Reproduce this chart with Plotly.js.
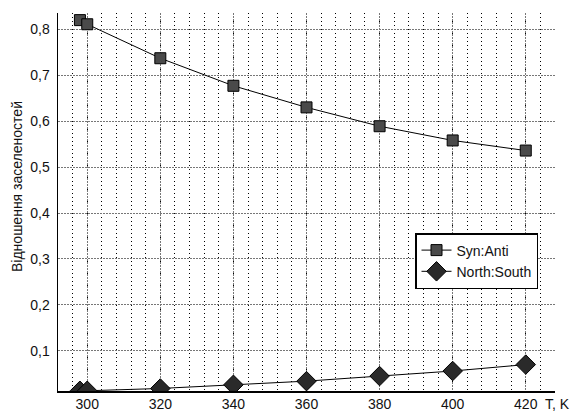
<!DOCTYPE html>
<html>
<head>
<meta charset="utf-8">
<script src="https://cdn.plot.ly/plotly-3.0.1.min.js"></script>
<style>html,body{margin:0;padding:0;background:#fff}#chart{width:573px;height:414px}</style>
</head>
<body>
<div id="chart"></div>
<script>
const temps = [298, 300, 320, 340, 360, 380, 400, 420];
const synAnti = [0.820, 0.811, 0.737, 0.677, 0.630, 0.589, 0.558, 0.536];
const northSouth = [0.013, 0.013, 0.018, 0.026, 0.034, 0.045, 0.056, 0.070];
const xTicks = [300, 320, 340, 360, 380, 400, 420];
const yTicks = [0.1, 0.2, 0.3, 0.4, 0.5, 0.6, 0.7, 0.8];
const seriesNames = ['Syn:Anti', 'North:South'];
const yTitle = 'Відношення заселеностей';
const xTitle = 'T, K';

const font = {family: "'Liberation Sans', Arial, sans-serif", color: '#111'};

const traces = [
  {x: temps, y: synAnti, name: seriesNames[0], type: 'scatter', mode: 'lines+markers',
   line: {color: '#000', width: 1},
   marker: {symbol: 'square', size: 11, color: '#4a4a4a', line: {color: '#000', width: 1}}},
  {x: temps, y: northSouth, name: seriesNames[1], type: 'scatter', mode: 'lines+markers',
   line: {color: '#000', width: 1},
   marker: {symbol: 'diamond', size: 15, color: '#2a2a2a', line: {color: '#000', width: 1}}}
];

const L = 58, R = 555, T = 13, B = 391;
const PW = R - L, PH = B - T;

const layout = {
  width: 573, height: 414,
  margin: {l: L, r: 573 - R, t: T, b: 414 - B, pad: 0, autoexpand: false},
  paper_bgcolor: '#fff', plot_bgcolor: '#fff',
  separators: ', ',
  showlegend: true,
  font: Object.assign({size: 14}, font),
  xaxis: {
    range: [292, 428], tickvals: xTicks, ticktext: xTicks.map(String),
    showline: true, linecolor: '#000', linewidth: 1.5, zeroline: false,
    showgrid: true, gridcolor: '#777', griddash: '2px,1px', gridwidth: 1,
    ticks: '', tickfont: Object.assign({size: 14}, font), automargin: false,
    minor: {tick0: 300, dtick: 4, showgrid: true, gridcolor: '#000', griddash: '1px,3px', gridwidth: 1, ticks: ''}
  },
  yaxis: {
    range: [0.0125, 0.8355], tickvals: yTicks, ticktext: yTicks.map(v => v.toFixed(1).replace('.', ',')),
    showline: true, linecolor: '#000', linewidth: 1.5, zeroline: false,
    showgrid: true, gridcolor: '#777', griddash: '2px,1px', gridwidth: 1,
    ticks: '', ticklabelstandoff: 4, tickfont: Object.assign({size: 14}, font), automargin: false
  },
  legend: {
    x: (415 - L) / PW, y: (B - 233) / PH,
    xanchor: 'left', yanchor: 'top',
    bgcolor: '#fff', bordercolor: '#000', borderwidth: 1.5,
    font: Object.assign({size: 14}, font),
    tracegroupgap: 0, itemwidth: 30
  },
  annotations: [
    {text: yTitle, textangle: -90, xref: 'paper', yref: 'paper',
     x: -(L - 17) / PW, y: (B - 187) / PH, xanchor: 'center', yanchor: 'middle',
     showarrow: false, font: Object.assign({size: 14}, font)},
    {text: xTitle, xref: 'paper', yref: 'paper',
     x: (571 - L) / PW, y: -(413 - B) / PH, xanchor: 'right', yanchor: 'bottom',
     borderpad: 0, showarrow: false, font: Object.assign({size: 14}, font)}
  ]
};

Plotly.newPlot('chart', traces, layout, {staticPlot: true, displayModeBar: false});
</script>
</body>
</html>
